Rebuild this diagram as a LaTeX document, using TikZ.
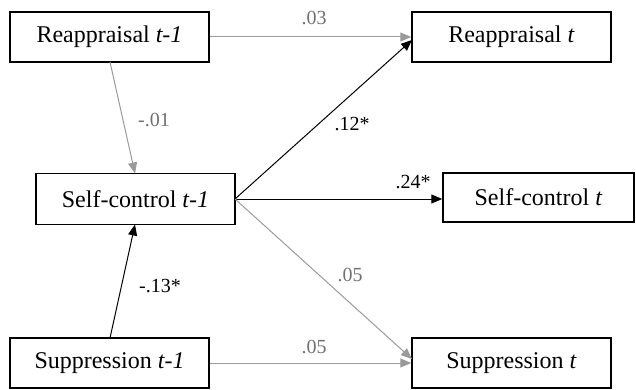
\documentclass[tikz,border=0pt]{standalone}
\usepackage{fontspec}
\setmainfont{Liberation Serif}
\usetikzlibrary{arrows.meta}
\definecolor{lgray}{HTML}{9A9A9A}
\definecolor{tgray}{HTML}{707070}
\definecolor{dline}{HTML}{303030}
\tikzset{
  varbox/.style={draw=black, line width=1.4pt, minimum height=50pt, inner sep=0pt,
    font=\fontsize{24}{28}\selectfont, fill=white},
  grayarrow/.style={draw=lgray, line width=1pt, -{Triangle[length=11pt,width=9pt]}, lgray},
  blackarrow/.style={draw=dline, line width=1pt, -{Triangle[length=11pt,width=9pt]}, black},
  glabel/.style={text=tgray, font=\fontsize{20}{24}\selectfont, inner sep=0pt},
  blabel/.style={text=black, font=\fontsize{20}{24}\selectfont, inner sep=0pt}
}
\begin{document}
\begin{tikzpicture}[x=1pt,y=-1pt]
\useasboundingbox (0,0) rectangle (636,390);
\node[varbox, minimum width=199pt] (r1) at (109.5,37) {Reappraisal \textit{t-1}};
\node[varbox, minimum width=199pt] (r2) at (511.5,37) {Reappraisal \textit{t}};
\node[varbox, minimum width=199pt, minimum height=51pt] (s1) at (135.5,199) {Self-control \textit{t-1}};
\node[varbox, minimum width=191pt, minimum height=49pt] (s2) at (538.5,197.5) {Self-control \textit{t}};
\node[varbox, minimum width=199pt] (p1) at (109.5,363) {Suppression \textit{t-1}};
\node[varbox, minimum width=199pt] (p2) at (511.5,363) {Suppression \textit{t}};
\coordinate (r1b) at (110,62);
\coordinate (s1t) at (135,173.5);
\coordinate (s1b) at (135,224.5);
\coordinate (p1t) at (110,338);
\coordinate (s1r) at (235,199);
\coordinate (r2l) at (412,40);
\coordinate (p2l) at (412,359);
\draw[grayarrow] (r1.east) -- (r2.west);
\draw[grayarrow] (r1b) -- (s1t);
\draw[blackarrow] (s1r) -- (r2l);
\draw[blackarrow] (s1r) -- (s2.west |- s1r);
\draw[grayarrow] (s1r) -- (p2l);
\draw[blackarrow] (p1t) -- (s1b);
\draw[grayarrow] (p1.east) -- (p2.west);
\node[glabel] (l1) at (314,18) {.03};
\node[glabel] (l2) at (154,120) {-.01};
\node[blabel] (l3) at (352,124) {.12*};
\node[blabel] (l4) at (413,182) {.24*};
\node[glabel] (l5) at (350,275) {.05};
\node[blabel] (l6) at (160,286) {-.13*};
\node[glabel] (l7) at (314,347) {.05};
\end{tikzpicture}
\end{document}
